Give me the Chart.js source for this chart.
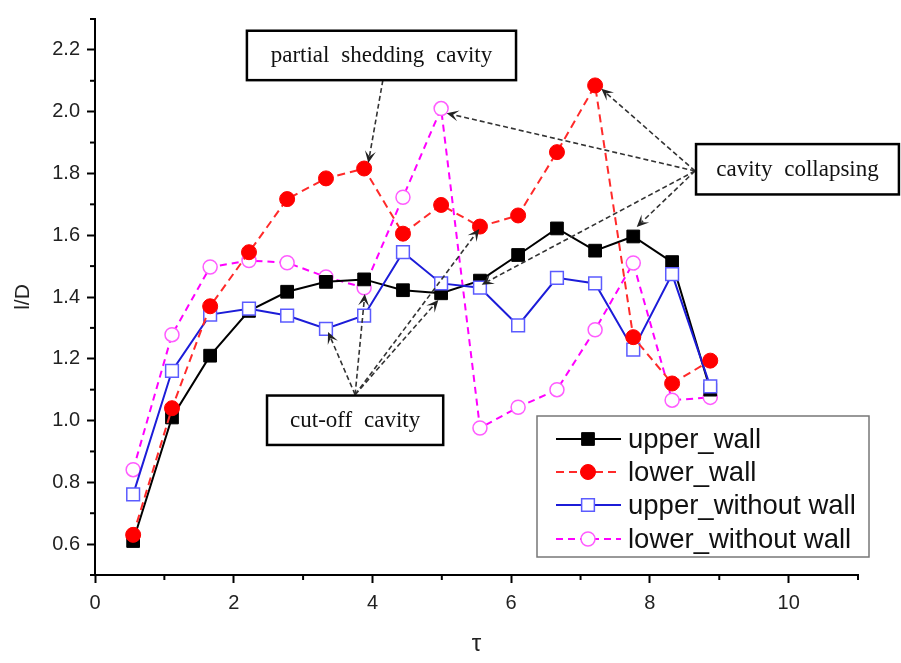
<!DOCTYPE html>
<html>
<head>
<meta charset="utf-8">
<script src="https://cdn.jsdelivr.net/npm/chart.js@4.4.1/dist/chart.umd.min.js"></script>
<style>
  html, body { margin: 0; padding: 0; background: #fff; }
  #wrap { width: 901px; height: 663px; }
</style>
</head>
<body>
<div id="wrap"><canvas id="chart" width="901" height="663"></canvas></div>
<script>
// data
const tau = [0.55, 1.11, 1.66, 2.22, 2.77, 3.33, 3.88, 4.44, 4.99, 5.55, 6.10, 6.66, 7.21, 7.76, 8.32, 8.87];
const upperWall = [0.61, 1.01, 1.21, 1.355, 1.417, 1.449, 1.457, 1.422, 1.412, 1.453, 1.536, 1.622, 1.55, 1.596, 1.513, 1.10];
const lowerWall = [0.63, 1.04, 1.37, 1.545, 1.717, 1.784, 1.816, 1.605, 1.698, 1.628, 1.664, 1.869, 2.085, 1.27, 1.12, 1.194];
const upperNoWall = [0.761, 1.161, 1.343, 1.362, 1.34, 1.297, 1.34, 1.545, 1.444, 1.43, 1.308, 1.462, 1.444, 1.23, 1.474, 1.111];
const lowerNoWall = [0.841, 1.278, 1.497, 1.518, 1.511, 1.465, 1.43, 1.723, 2.01, 0.976, 1.043, 1.10, 1.294, 1.51, 1.066, 1.075];
const seriesNames = ["upper_wall", "lower_wall", "upper_without wall", "lower_without wall"];

const xTicks = [0, 2, 4, 6, 8, 10];
const xMinor = [1, 3, 5, 7, 9, 11];
const yTicks = [0.6, 0.8, 1.0, 1.2, 1.4, 1.6, 1.8, 2.0, 2.2];
const yMinor = [0.5, 0.7, 0.9, 1.1, 1.3, 1.5, 1.7, 1.9, 2.1, 2.3];

// annotation boxes and arrows, in data units
const notes = [
  { text: "partial shedding cavity", box: [2.19, 2.262, 6.07, 2.102], from: [4.15, 2.102],
    to: [[3.94, 1.834]] },
  { text: "cavity collapsing", box: [8.665, 1.895, 11.59, 1.732], from: [8.65, 1.808],
    to: [[7.30, 2.074], [5.07, 1.995], [7.81, 1.627], [5.575, 1.44]] },
  { text: "cut-off cavity", box: [2.48, 1.081, 5.02, 0.921], from: [3.75, 1.084],
    to: [[3.36, 1.287], [3.89, 1.41], [4.95, 1.39], [5.54, 1.62]] }
];

const pts = vals => vals.map((v, i) => ({ x: tau[i], y: v }));
const SANS = '"Liberation Sans", Arial, sans-serif';

function arrow(ctx, x0, y0, x1, y1) {
  const a = Math.atan2(y1 - y0, x1 - x0);
  const len = 12, w = 5.5;
  ctx.strokeStyle = "#333";
  ctx.lineWidth = 1.6;
  ctx.setLineDash([5, 3]);
  ctx.beginPath();
  ctx.moveTo(x0, y0);
  ctx.lineTo(x1 - Math.cos(a) * len * 0.6, y1 - Math.sin(a) * len * 0.6);
  ctx.stroke();
  ctx.setLineDash([]);
  ctx.save();
  ctx.translate(x1, y1);
  ctx.rotate(a);
  ctx.beginPath();
  ctx.moveTo(0, 0);
  ctx.lineTo(-len, -w);
  ctx.lineTo(-len * 0.55, 0);
  ctx.lineTo(-len, w);
  ctx.closePath();
  ctx.fillStyle = "#222";
  ctx.fill();
  ctx.restore();
}

function marker(ctx, ds, cx, cy) {
  const r = ds.pointRadius;
  ctx.setLineDash([]);
  ctx.fillStyle = ds.pointBackgroundColor;
  ctx.strokeStyle = ds.pointBorderColor;
  ctx.lineWidth = ds.pointBorderWidth;
  ctx.beginPath();
  if (ds.pointStyle === "rect") {
    const h = r * Math.SQRT1_2;
    ctx.rect(cx - h, cy - h, 2 * h, 2 * h);
  } else {
    ctx.arc(cx, cy, r, 0, Math.PI * 2);
  }
  ctx.fill();
  ctx.stroke();
}

const extras = {
  id: "extras",
  afterDatasetsDraw(chart) {
    const { ctx, scales: { x, y } } = chart;
    ctx.save();
    // minor ticks
    ctx.strokeStyle = "#000";
    ctx.lineWidth = 2;
    const bx = chart.chartArea.bottom, lx = chart.chartArea.left;
    xMinor.forEach(v => {
      const px = x.getPixelForValue(v);
      ctx.beginPath(); ctx.moveTo(px, bx); ctx.lineTo(px, bx + 5); ctx.stroke();
    });
    yMinor.forEach(v => {
      const py = y.getPixelForValue(v);
      ctx.beginPath(); ctx.moveTo(lx, py); ctx.lineTo(lx - 5, py); ctx.stroke();
    });

    // annotations
    notes.forEach(n => {
      const sx = x.getPixelForValue(n.from[0]), sy = y.getPixelForValue(n.from[1]);
      n.to.forEach(t => arrow(ctx, sx, sy, x.getPixelForValue(t[0]), y.getPixelForValue(t[1])));
    });
    notes.forEach(n => {
      const L = x.getPixelForValue(n.box[0]), T = y.getPixelForValue(n.box[1]);
      const R = x.getPixelForValue(n.box[2]), B = y.getPixelForValue(n.box[3]);
      ctx.setLineDash([]);
      ctx.fillStyle = "#fff";
      ctx.fillRect(L, T, R - L, B - T);
      ctx.strokeStyle = "#000";
      ctx.lineWidth = 2.5;
      ctx.strokeRect(L, T, R - L, B - T);
      ctx.fillStyle = "#111";
      ctx.font = '23px "Liberation Serif", "Times New Roman", serif';
      ctx.textAlign = "center";
      ctx.textBaseline = "middle";
      if ("wordSpacing" in ctx) ctx.wordSpacing = "6px";
      ctx.fillText(n.text, (L + R) / 2, (T + B) / 2 + 1);
      if ("wordSpacing" in ctx) ctx.wordSpacing = "0px";
    });

    // legend
    const lg = { l: 537, t: 416, r: 869, b: 557 };
    ctx.fillStyle = "#fff";
    ctx.fillRect(lg.l, lg.t, lg.r - lg.l, lg.b - lg.t);
    ctx.strokeStyle = "#777";
    ctx.lineWidth = 1.5;
    ctx.strokeRect(lg.l, lg.t, lg.r - lg.l, lg.b - lg.t);
    const rows = [439, 472, 505, 539];
    chart.data.datasets.forEach((ds, i) => {
      const ry = rows[i];
      ctx.strokeStyle = ds.borderColor;
      ctx.lineWidth = ds.borderWidth;
      ctx.setLineDash(ds.borderDash || []);
      ctx.beginPath(); ctx.moveTo(556, ry); ctx.lineTo(621, ry); ctx.stroke();
      marker(ctx, ds, 588, ry);
      ctx.fillStyle = "#111";
      ctx.font = "27.5px " + SANS;
      ctx.textAlign = "left";
      ctx.textBaseline = "middle";
      ctx.fillText(ds.label, 628, ry + 1);
    });
    ctx.restore();
  }
};

new Chart(document.getElementById("chart"), {
  type: "line",
  data: {
    datasets: [
      { label: seriesNames[0], data: pts(upperWall), order: 3,
        borderColor: "#000", borderWidth: 2, pointStyle: "rect", pointRadius: 9,
        pointBackgroundColor: "#000", pointBorderColor: "#000", pointBorderWidth: 1 },
      { label: seriesNames[1], data: pts(lowerWall), order: 1,
        borderColor: "#ff2a2a", borderWidth: 2, borderDash: [8, 5], pointStyle: "circle", pointRadius: 7.5,
        pointBackgroundColor: "#ff0000", pointBorderColor: "#ff0000", pointBorderWidth: 1 },
      { label: seriesNames[2], data: pts(upperNoWall), order: 2,
        borderColor: "#1c1cd8", borderWidth: 2, pointStyle: "rect", pointRadius: 9,
        pointBackgroundColor: "#fff", pointBorderColor: "#5b5bff", pointBorderWidth: 1.5 },
      { label: seriesNames[3], data: pts(lowerNoWall), order: 4,
        borderColor: "#ff00ff", borderWidth: 2, borderDash: [7, 5], pointStyle: "circle", pointRadius: 7,
        pointBackgroundColor: "#fff", pointBorderColor: "#ff5cff", pointBorderWidth: 1.5 }
    ]
  },
  options: {
    responsive: false,
    animation: false,
    events: [],
    layout: { padding: { top: 11, right: 43, left: 0, bottom: 0 } },
    plugins: { legend: { display: false }, tooltip: { enabled: false } },
    elements: { line: { tension: 0 } },
    scales: {
      x: {
        type: "linear", min: 0, max: 11,
        afterBuildTicks: s => { s.ticks = xTicks.map(v => ({ value: v })); },
        afterFit: s => { s.height = 88; },
        grid: { drawOnChartArea: false, drawTicks: true, tickLength: 8, color: "#000", tickWidth: 2 },
        border: { display: true, color: "#000", width: 2 },
        ticks: { color: "#222", font: { family: SANS, size: 20 }, padding: 8, maxRotation: 0 },
        title: { display: true, text: "τ", color: "#222", font: { family: SANS, size: 24 }, padding: { top: 0, bottom: 4 } }
      },
      y: {
        min: 0.5, max: 2.3,
        afterBuildTicks: s => { s.ticks = yTicks.map(v => ({ value: v })); },
        afterFit: s => { s.width = 95; },
        grid: { drawOnChartArea: false, drawTicks: true, tickLength: 8, color: "#000", tickWidth: 2 },
        border: { display: true, color: "#000", width: 2 },
        ticks: { color: "#222", font: { family: SANS, size: 20 }, padding: 7, callback: v => v.toFixed(1) },
        title: { display: true, text: "l/D", color: "#222", font: { family: SANS, size: 21 }, padding: { top: 11, bottom: 0 } }
      }
    }
  },
  plugins: [extras]
});
</script>
</body>
</html>
